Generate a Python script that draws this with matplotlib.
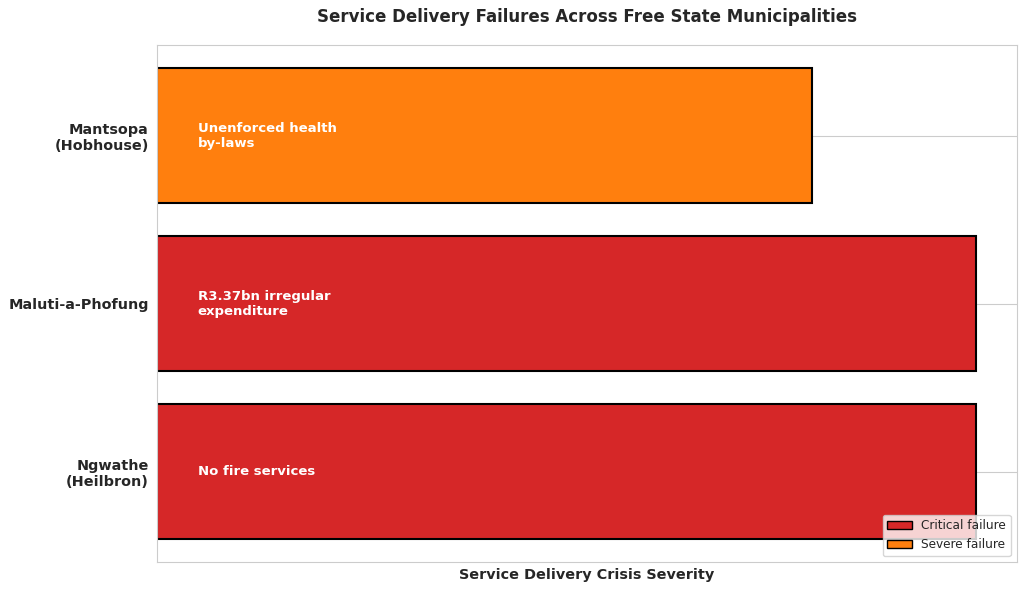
import matplotlib
matplotlib.use('Agg')
import matplotlib.pyplot as plt
import seaborn as sns
from matplotlib.patches import Patch

sns.set_style('whitegrid')
plt.rcParams['font.family'] = ['DejaVu Sans']

# 数据
municipalities = ['Ngwathe\n(Heilbron)', 'Maluti-a-Phofung', 'Mantsopa\n(Hobhouse)']
severity = [10, 10, 8]
issues = ['No fire services', 'R3.37bn irregular\nexpenditure', 'Unenforced health\nby-laws']
levels = ['Critical failure', 'Critical failure', 'Severe failure']
level_colors = {'Critical failure': '#d62728', 'Severe failure': '#ff7f0e'}

fig, ax = plt.subplots(figsize=(10.24, 5.9), dpi=100)
colors = [level_colors[l] for l in levels]
ax.barh(range(len(municipalities)), severity, height=0.8, color=colors,
        edgecolor='black', linewidth=1.5)

for i, txt in enumerate(issues):
    ax.text(0.5, i, txt, ha='left', va='center', color='white',
            fontsize=9.5, fontweight='bold')

ax.set_yticks(range(len(municipalities)))
ax.set_yticklabels(municipalities, fontsize=10.4, fontweight='bold')
ax.tick_params(axis='y', pad=2.2)
ax.set_xticks([])
ax.set_xlabel('Service Delivery Crisis Severity', fontsize=10.4, fontweight='bold')
ax.set_title('Service Delivery Failures Across Free State Municipalities',
             fontsize=12, fontweight='bold', pad=16.5)

handles = [Patch(facecolor=c, edgecolor='black', label=l) for l, c in level_colors.items()]
ax.legend(handles=handles, loc='lower right', fontsize=8.7)

plt.subplots_adjust(left=0.153, right=0.993, top=0.924, bottom=0.047)
plt.savefig('out.png', dpi=100)
